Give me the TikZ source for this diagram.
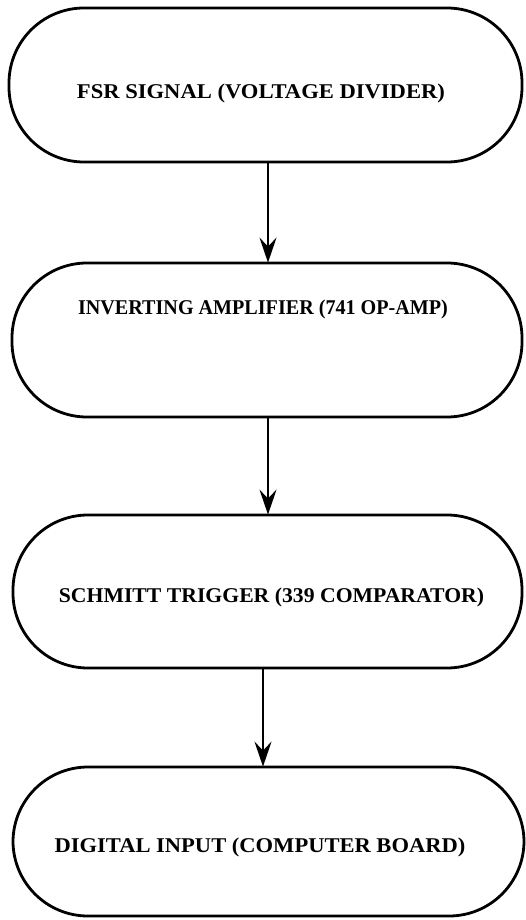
\documentclass[tikz,border=0pt]{standalone}
\usepackage{fontspec}
\setmainfont{Liberation Serif}
\usetikzlibrary{arrows.meta}
\begin{document}
\begin{tikzpicture}[x=1pt,y=-1pt,
  stadium/.style={draw=black, line width=2.8pt, rounded corners=75pt, inner sep=0pt},
  lbl/.style={font=\fontsize{21}{24}\selectfont\bfseries, inner sep=0pt, anchor=center},
  flow/.style={line width=2.8pt, -{Stealth[length=25pt,width=17pt,inset=9pt]}, shorten >=-1pt}]
\useasboundingbox[fill=white] (0,0) rectangle (526,920);
\node[stadium, minimum width=513pt, minimum height=154pt] (b1) at (265.5,85) {};
\node[stadium, minimum width=510pt, minimum height=154pt] (b2) at (267,340) {};
\node[stadium, minimum width=509pt, minimum height=153pt] (b3) at (267.5,591.5) {};
\node[stadium, minimum width=511pt, minimum height=149pt] (b4) at (268.5,841.5) {};
\node[lbl] (t1) at (261,93) {\scalebox{1.076}[1]{FSR SIGNAL (VOLTAGE DIVIDER)}};
\node[lbl] (t2) at (263,309) {\scalebox{0.958}[1]{INVERTING AMPLIFIER (741 OP-AMP)}};
\node[lbl] (t3) at (271.5,597) {\scalebox{1.034}[1]{SCHMITT TRIGGER (339 COMPARATOR)}};
\node[lbl] (t4) at (260,847) {\scalebox{1.073}[1]{DIGITAL INPUT (COMPUTER BOARD)}};
\draw[flow] ([xshift=2.5pt]b1.south) -- ([xshift=1pt]b2.north);
\draw[flow] ([xshift=1pt]b2.south) -- ([xshift=0.5pt]b3.north);
\draw[flow] ([xshift=-4.5pt]b3.south) -- ([xshift=-5.5pt]b4.north);
\end{tikzpicture}
\end{document}
